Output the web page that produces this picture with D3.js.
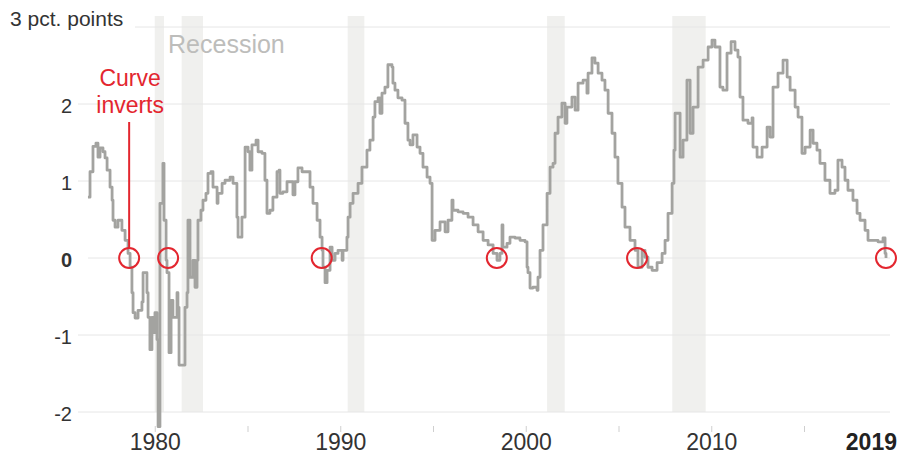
<!DOCTYPE html>
<html>
<head>
<meta charset="utf-8">
<script src="https://cdn.jsdelivr.net/npm/d3@7"></script>
<style>
  body { margin: 0; background: #fff; }
  text { font-family: "Liberation Sans", Arial, sans-serif; }
</style>
</head>
<body>
<script>
// 10-year minus short-term Treasury yield spread, percentage points
var years = [
  1976.40,1976.51,1976.67,1976.83,1976.94,1977.05,1977.21,1977.32,1977.43,1977.59,
  1977.70,1977.75,1977.86,1978.02,1978.23,1978.40,1978.56,1978.67,1978.77,1978.83,
  1978.94,1979.10,1979.31,1979.37,1979.53,1979.58,1979.64,1979.74,1979.85,1979.91,
  1980.01,1980.12,1980.18,1980.28,1980.44,1980.50,1980.61,1980.66,1980.77,1980.88,
  1980.98,1981.20,1981.25,1981.31,1981.52,1981.63,1981.74,1981.79,1981.90,1982.06,
  1982.17,1982.28,1982.33,1982.49,1982.60,1982.76,1982.87,1983.03,1983.14,1983.36,
  1983.41,1983.63,1983.79,1984.06,1984.22,1984.43,1984.49,1984.70,1984.87,1985.03,
  1985.13,1985.24,1985.46,1985.57,1985.78,1985.94,1986.05,1986.21,1986.37,1986.59,
  1986.70,1986.75,1986.91,1987.13,1987.40,1987.45,1987.56,1987.72,1987.94,1988.21,
  1988.37,1988.53,1988.75,1988.91,1989.02,1989.07,1989.18,1989.29,1989.45,1989.56,
  1989.72,1989.88,1990.10,1990.15,1990.36,1990.42,1990.53,1990.69,1990.96,1991.17,
  1991.44,1991.60,1991.77,1991.87,1992.04,1992.14,1992.25,1992.41,1992.57,1992.79,
  1992.84,1992.95,1993.11,1993.33,1993.49,1993.65,1993.76,1993.92,1994.14,1994.30,
  1994.46,1994.68,1994.84,1994.95,1995.11,1995.38,1995.65,1995.81,1996.02,1996.08,
  1996.35,1996.62,1996.89,1997.16,1997.43,1997.70,1997.97,1998.24,1998.45,1998.61,
  1998.72,1998.77,1998.99,1999.15,1999.42,1999.69,1999.96,2000.07,2000.12,2000.23,
  2000.39,2000.61,2000.66,2000.77,2000.93,2001.15,2001.31,2001.47,2001.58,2001.74,
  2001.95,2002.12,2002.22,2002.49,2002.66,2002.82,2003.09,2003.30,2003.36,2003.57,
  2003.73,2003.90,2004.11,2004.27,2004.44,2004.65,2004.81,2004.97,2005.19,2005.35,
  2005.62,2005.89,2006.05,2006.27,2006.43,2006.59,2006.81,2007.08,2007.35,2007.51,
  2007.67,2007.89,2007.99,2008.05,2008.32,2008.48,2008.69,2008.86,2009.02,2009.29,
  2009.56,2009.83,2010.04,2010.20,2010.47,2010.63,2010.85,2011.07,2011.28,2011.44,
  2011.55,2011.71,2011.98,2012.20,2012.25,2012.47,2012.74,2012.90,2013.01,2013.17,
  2013.33,2013.60,2013.87,2014.09,2014.25,2014.52,2014.68,2014.89,2015.06,2015.33,
  2015.49,2015.70,2015.86,2016.13,2016.40,2016.67,2016.83,2017.05,2017.21,2017.37,
  2017.64,2017.86,2018.02,2018.29,2018.45,2018.72,2018.99,2019.26,2019.37,2019.42
];
var spread = [
  0.79,1.12,1.45,1.49,1.31,1.43,1.38,1.30,1.14,0.92,
  0.75,0.49,0.40,0.49,0.36,0.23,0.06,-0.12,-0.45,-0.71,
  -0.78,-0.68,-0.57,-0.19,-0.19,-0.45,-0.77,-1.19,-0.77,-0.97,
  -0.71,-1.06,-2.19,0.71,1.23,0.49,-0.03,-0.19,-1.23,-0.55,
  -0.77,-0.45,-0.64,-1.39,-1.39,-0.64,-0.45,0.49,-0.25,-0.03,
  -0.38,-0.03,0.49,0.62,0.75,0.84,1.10,1.12,0.92,0.71,
  0.84,0.97,1.01,1.05,0.97,0.53,0.27,0.53,1.44,1.38,
  1.14,1.47,1.53,1.38,1.36,1.01,0.58,0.62,0.79,1.12,
  1.14,0.84,0.86,0.99,0.99,0.82,0.99,1.17,1.12,1.12,
  0.92,0.71,0.49,0.27,0.10,-0.12,-0.32,-0.16,0.14,-0.03,
  0.06,0.10,-0.03,0.10,0.27,0.53,0.71,0.84,0.97,1.18,
  1.40,1.53,1.83,2.03,2.08,1.88,2.14,2.22,2.51,2.48,
  2.27,2.18,2.08,2.05,1.75,1.53,1.47,1.60,1.44,1.36,
  1.18,1.05,0.97,0.23,0.36,0.47,0.34,0.49,0.75,0.62,
  0.60,0.58,0.53,0.43,0.34,0.23,0.17,0.06,-0.03,0.06,
  0.43,0.14,0.19,0.27,0.26,0.23,0.21,-0.12,-0.19,-0.39,
  -0.38,-0.42,-0.25,0.10,0.43,0.84,1.18,1.23,1.62,1.83,
  2.01,1.75,1.96,2.09,1.92,2.27,2.31,2.14,2.40,2.60,
  2.53,2.40,2.31,2.18,1.88,1.62,1.31,0.97,0.66,0.40,
  0.23,0.10,-0.12,0.10,0.01,-0.12,-0.16,-0.06,0.06,0.23,
  0.58,0.97,1.40,1.88,1.31,1.53,2.31,1.62,1.96,2.48,
  2.57,2.74,2.83,2.74,2.22,2.18,2.66,2.81,2.70,2.61,
  2.09,1.79,1.75,1.82,1.44,1.31,1.44,1.44,1.70,1.57,
  2.22,2.40,2.57,2.35,2.18,1.96,1.83,1.36,1.44,1.66,
  1.49,1.40,1.23,1.01,0.84,0.88,1.27,1.18,1.01,0.88,
  0.75,0.58,0.49,0.36,0.23,0.23,0.21,0.26,0.06,0.00
];

// recession start / end (decimal years)
var recessionStart = [1980.0, 1981.45, 1990.4, 2001.15, 2007.9];
var recessionEnd   = [1980.5, 1982.6, 1991.3, 2002.1, 2009.7];

// points where the curve inverts
var inversions = [1978.62, 1980.72, 1989.0, 1998.44, 2006.0, 2019.42];

var yTicks = [-2, -1, 0, 1, 2, 3];
var xTicks = [1980, 1985, 1990, 1995, 2000, 2005, 2010, 2015];
var xLabels = [1980, 1990, 2000, 2010];
var lastLabel = "2019";

var width = 904, height = 455;
var red = "#e3262f";

var svg = d3.select("body")
    .append("svg")
    .attr("width", width)
    .attr("height", height)
    .style("display", "block")
    .style("background", "#fff");

var x = d3.scaleLinear().domain([1995, 2015]).range([433, 804]);
var y = d3.scaleLinear().domain([-2, 3]).range([412, 27]);

var data = years.map(function(yr, i) { return { year: yr, v: spread[i] }; });

// recession bands (bottom layer)
var bandTop = 16;
svg.selectAll(".recession")
    .data(recessionStart)
    .enter()
    .append("rect")
    .attr("class", "recession")
    .attr("x", function(d) { return x(d); })
    .attr("width", function(d, i) { return x(recessionEnd[i]) - x(d); })
    .attr("y", bandTop)
    .attr("height", y(-2) - bandTop)
    .attr("fill", "#f0f0ee");

// gridlines
svg.selectAll(".grid")
    .data(yTicks)
    .enter()
    .append("line")
    .attr("class", "grid")
    .attr("x1", function(d) { return d === 0 ? 88 : (d === 3 ? 135 : 78); })
    .attr("x2", 890)
    .attr("y1", function(d) { return y(d); })
    .attr("y2", function(d) { return y(d); })
    .attr("stroke", "#e6e6e6")
    .attr("stroke-width", 1);

// y labels
svg.selectAll(".ylab")
    .data(yTicks.filter(function(d) { return d !== 3; }))
    .enter()
    .append("text")
    .attr("class", "ylab")
    .attr("x", 72)
    .attr("y", function(d) { return y(d) + 2; })
    .attr("dy", "0.35em")
    .attr("text-anchor", "end")
    .attr("font-size", 20)
    .attr("font-weight", function(d) { return d === 0 ? "bold" : "normal"; })
    .attr("fill", "#333")
    .text(function(d) { return d; });

svg.append("text")
    .attr("x", 10)
    .attr("y", y(3) - 1)
    .attr("font-size", 21)
    .attr("fill", "#333")
    .text("3 pct. points");

// x axis ticks + labels
var xAxis = d3.axisBottom(x)
    .tickValues(xTicks)
    .tickSize(6)
    .tickFormat(function(d) { return xLabels.indexOf(d) >= 0 ? d : ""; });

var gx = svg.append("g")
    .attr("transform", "translate(0,426)")
    .call(xAxis);
gx.select(".domain").remove();
gx.selectAll(".tick line").attr("stroke", "#cfcfcf");
gx.selectAll(".tick text")
    .attr("y", 24)
    .attr("dy", 0)
    .attr("font-size", 23)
    .attr("font-family", "Liberation Sans, Arial, sans-serif")
    .attr("fill", "#333");

svg.append("text")
    .attr("x", x(years[years.length - 1]) + 11)
    .attr("y", 450)
    .attr("text-anchor", "end")
    .attr("font-size", 23)
    .attr("font-weight", "bold")
    .attr("fill", "#222")
    .text(lastLabel);

// the spread line
var line = d3.line()
    .x(function(d) { return x(d.year); })
    .y(function(d) { return y(d.v); })
    .curve(d3.curveStepAfter);

svg.append("path")
    .datum(data)
    .attr("d", line)
    .attr("fill", "none")
    .attr("stroke", "#a3a3a0")
    .attr("stroke-width", 2.8)
    .attr("stroke-linejoin", "round");

// inversion circles
svg.selectAll(".inv")
    .data(inversions)
    .enter()
    .append("circle")
    .attr("class", "inv")
    .attr("cx", function(d) { return x(d); })
    .attr("cy", y(0))
    .attr("r", 10)
    .attr("fill", "none")
    .attr("stroke", red)
    .attr("stroke-width", 2);

// annotations
var ax = x(inversions[0]);
svg.append("line")
    .attr("x1", ax).attr("x2", ax)
    .attr("y1", 122).attr("y2", y(0) - 10)
    .attr("stroke", red)
    .attr("stroke-width", 2);

var note = svg.append("text")
    .attr("text-anchor", "middle")
    .attr("font-size", 23)
    .attr("fill", red);
note.append("tspan").attr("x", ax + 1).attr("y", 86).text("Curve");
note.append("tspan").attr("x", ax + 1).attr("y", 113).text("inverts");

svg.append("text")
    .attr("x", x(recessionEnd[0]) + 4)
    .attr("y", 53)
    .attr("font-size", 25)
    .attr("fill", "#bdbdbb")
    .text("Recession");
</script>
</body>
</html>
